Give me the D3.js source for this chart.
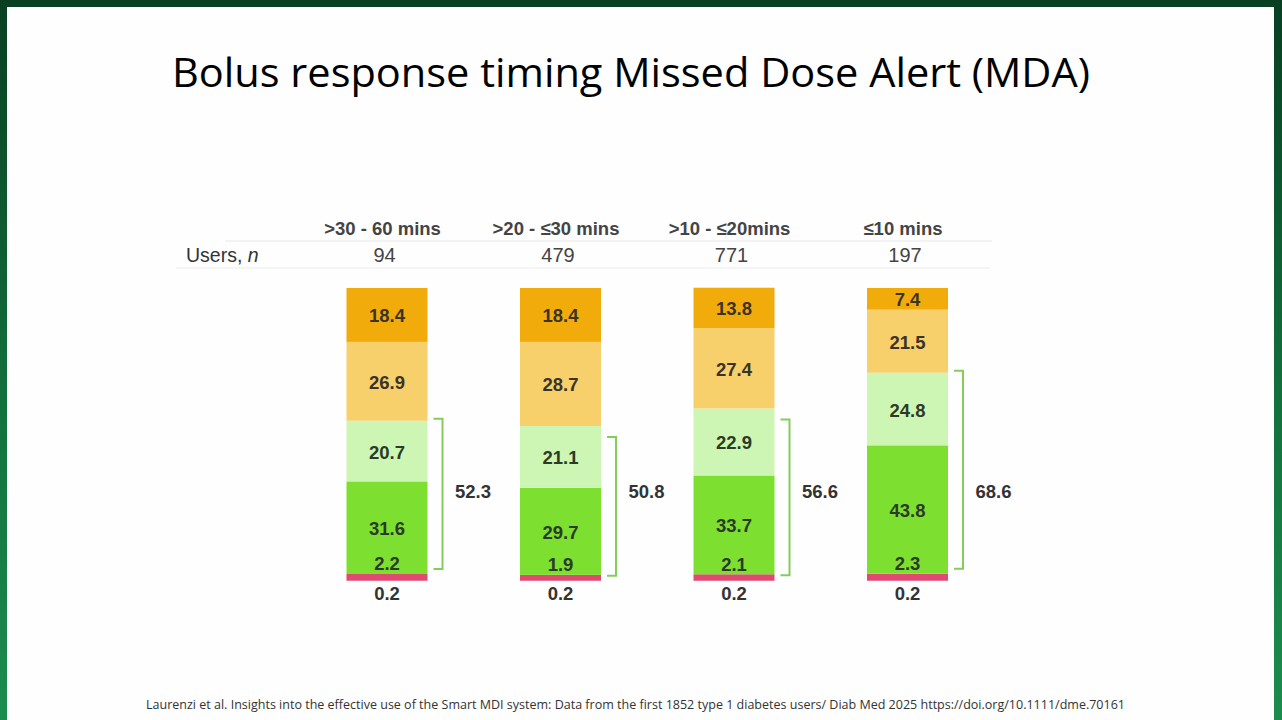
<!DOCTYPE html>
<html>
<head>
<meta charset="utf-8">
<script src="https://cdn.jsdelivr.net/npm/d3@7"></script>
<style>
  html, body { margin: 0; padding: 0; overflow: hidden; }
  body { width: 1282px; height: 720px; }
</style>
</head>
<body>
<div id="chart-container"></div>
<script>
// Data
const categories = [">30 - 60 mins", ">20 - \u226430 mins", ">10 - \u226420mins", "\u226410 mins"];
const users = [94, 479, 771, 197];
// stacked segments, bottom to top
const seg02 = [0.2, 0.2, 0.2, 0.2];
const seg2x = [2.2, 1.9, 2.1, 2.3];
const segGreen = [31.6, 29.7, 33.7, 43.8];
const segLightGreen = [20.7, 21.1, 22.9, 24.8];
const segLightOrange = [26.9, 28.7, 27.4, 21.5];
const segOrange = [18.4, 18.4, 13.8, 7.4];
const bracketTotals = [52.3, 50.8, 56.6, 68.6];

const seriesKeys = ["s02", "s2x", "green", "lightGreen", "lightOrange", "orange"];
const seriesColors = {
  s02: "#e04a72",
  s2x: "#e04a72",
  green: "#7ddf30",
  lightGreen: "#cdf6b4",
  lightOrange: "#f7cf6b",
  orange: "#f1ac0c"
};

const title = "Bolus response timing Missed Dose Alert (MDA)";
const footnote = "Laurenzi et al. Insights into the effective use of the Smart MDI system: Data from the first 1852 type 1 diabetes users/ Diab Med 2025 https://doi.org/10.1111/dme.70161";

function drawChart() {
  const W = 1282, H = 720;
  const svg = d3.select("#chart-container").append("svg")
    .attr("width", W).attr("height", H);

  //Slide frame
  const defs = svg.append("defs");
  const grad = defs.append("linearGradient").attr("id", "frame")
    .attr("x1", 0).attr("y1", 0).attr("x2", 0).attr("y2", 1);
  grad.append("stop").attr("offset", "0%").attr("stop-color", "#083f22");
  grad.append("stop").attr("offset", "55%").attr("stop-color", "#13703d");
  grad.append("stop").attr("offset", "100%").attr("stop-color", "#1c8c4e");
  svg.append("rect").attr("width", W).attr("height", H).attr("fill", "url(#frame)");
  svg.append("rect").attr("x", 7).attr("y", 7).attr("width", 1267).attr("height", 713)
    .attr("fill", "#fefefe");

  //Title
  svg.append("text")
    .attr("x", 631).attr("y", 87)
    .attr("text-anchor", "middle")
    .attr("textLength", 918).attr("lengthAdjust", "spacingAndGlyphs")
    .style("font-family", "'Open Sans', 'DejaVu Sans', sans-serif")
    .style("font-size", "40px")
    .style("fill", "#000")
    .text(title);

  //Scales
  const x = d3.scalePoint().domain(categories).range([387, 907.5]);
  const y = d3.scaleLinear().domain([0, 100]).range([581, 288]);
  const barW = 81;

  //Table header
  const sans = "'Liberation Sans', Arial, sans-serif";
  svg.append("g").selectAll("text").data(categories).join("text")
    .attr("x", (d) => x(d) - 4.5)
    .attr("y", 235)
    .attr("text-anchor", "middle")
    .style("font-family", sans)
    .style("font-size", "18.5px")
    .style("font-weight", "bold")
    .style("fill", "#444")
    .text((d) => d);

  svg.append("line").attr("x1", 225).attr("x2", 992).attr("y1", 241).attr("y2", 241)
    .attr("stroke", "#e6e6e6").attr("stroke-width", 1.2);
  svg.append("line").attr("x1", 176).attr("x2", 990).attr("y1", 268).attr("y2", 268)
    .attr("stroke", "#ececec").attr("stroke-width", 1.2);

  const ul = svg.append("text").attr("x", 186).attr("y", 262)
    .style("font-family", sans).style("font-size", "19.5px").style("fill", "#333");
  ul.append("tspan").text("Users, ");
  ul.append("tspan").style("font-style", "italic").text("n");

  svg.append("g").selectAll("text").data(users).join("text")
    .attr("x", (d, i) => x(categories[i]) - 2.5)
    .attr("y", 262)
    .attr("text-anchor", "middle")
    .style("font-family", sans)
    .style("font-size", "20px")
    .style("fill", "#444")
    .text((d) => d);

  //Stacked bars
  const table = categories.map((c, i) => ({
    cat: c,
    s02: seg02[i],
    s2x: seg2x[i],
    green: segGreen[i],
    lightGreen: segLightGreen[i],
    lightOrange: segLightOrange[i],
    orange: segOrange[i]
  }));
  const stacked = d3.stack().keys(seriesKeys)(table);

  const layers = svg.append("g").selectAll("g").data(stacked).join("g")
    .attr("fill", (d) => seriesColors[d.key]);
  layers.selectAll("rect").data((d) => d).join("rect")
    .attr("x", (d) => x(d.data.cat) - barW / 2)
    .attr("y", (d) => y(d[1]))
    .attr("width", barW)
    .attr("height", (d) => y(d[0]) - y(d[1]));

  //Segment labels
  const labelStyle = (sel) => sel
    .attr("text-anchor", "middle")
    .attr("dominant-baseline", "central")
    .style("font-family", sans)
    .style("font-size", "18.5px")
    .style("font-weight", "bold")
    .style("fill", "#333");

  ["green", "lightGreen", "lightOrange", "orange"].forEach((key) => {
    const layer = stacked.find((s) => s.key === key);
    svg.append("g").selectAll("text").data(layer).join("text")
      .call(labelStyle)
      .attr("x", (d) => x(d.data.cat))
      .attr("y", (d) => (y(d[0]) + y(d[1])) / 2 + 1)
      .style("fill", key === "green" || key === "lightGreen" ? "#2c3a28" : "#3a3328")
      .text((d) => d.data[key].toFixed(1));
  });

  // small values: one just above the pink strip, one below the bar
  const layer2x = stacked.find((s) => s.key === "s2x");
  svg.append("g").selectAll("text").data(layer2x).join("text")
    .call(labelStyle)
    .attr("x", (d) => x(d.data.cat))
    .attr("y", (d) => y(d[1]) - 10)
    .style("fill", "#2c3a28")
    .text((d) => d.data.s2x.toFixed(1));

  const layer02 = stacked.find((s) => s.key === "s02");
  svg.append("g").selectAll("text").data(layer02).join("text")
    .call(labelStyle)
    .attr("x", (d) => x(d.data.cat))
    .attr("y", (d) => y(0) + 12)
    .text((d) => d.data.s02.toFixed(1));

  //Brackets around the green segments
  const lg = stacked.find((s) => s.key === "lightGreen");
  const gr = stacked.find((s) => s.key === "green");
  const brackets = categories.map((c, i) => ({
    cat: c,
    top: y(lg[i][1]) + (i === 1 || i === 2 ? 11 : -2),
    bottom: y(gr[i][0]) + (i === 0 || i === 3 ? -5 : 1),
    total: bracketTotals[i]
  }));
  const bx0 = barW / 2 + 6, bx1 = barW / 2 + 15;
  svg.append("g").selectAll("path").data(brackets).join("path")
    .attr("fill", "none")
    .attr("stroke", "#86cc5c")
    .attr("stroke-width", 2)
    .attr("d", (d) => {
      const cx = x(d.cat);
      return `M${cx + bx0},${d.top}H${cx + bx1}V${d.bottom}H${cx + bx0}`;
    });
  // totals sit on one common row
  svg.append("g").selectAll("text").data(brackets).join("text")
    .call(labelStyle)
    .attr("x", (d) => x(d.cat) + 86)
    .attr("y", y(30.5))
    .text((d) => d.total.toFixed(1));

  //Footnote
  svg.append("text")
    .attr("x", 146).attr("y", 709)
    .attr("textLength", 979).attr("lengthAdjust", "spacingAndGlyphs")
    .style("font-family", "'Open Sans', sans-serif")
    .style("font-size", "12.5px")
    .style("fill", "#333")
    .text(footnote);
}

drawChart();
</script>
</body>
</html>
